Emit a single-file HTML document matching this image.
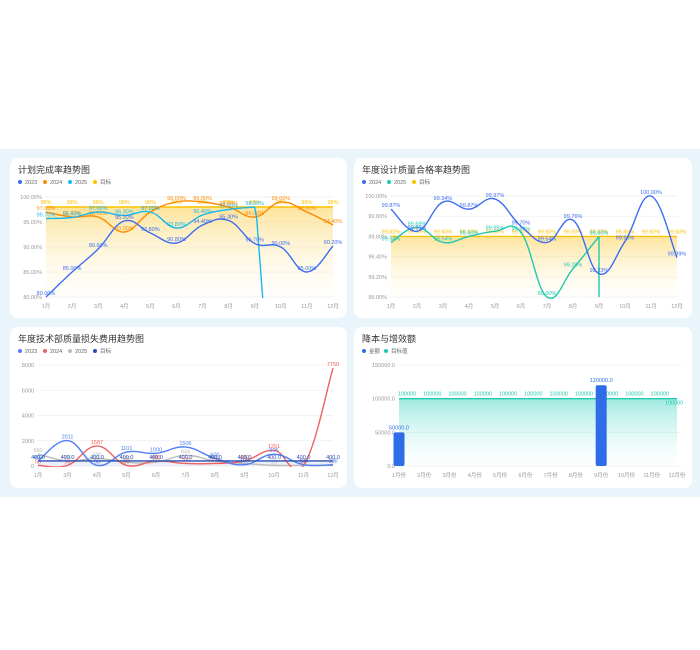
<!DOCTYPE html>
<html><head><meta charset="utf-8"><style>
body{margin:0;width:700px;height:650px;background:#fff;font-family:"Liberation Sans","Noto Sans CJK SC",sans-serif;position:relative;overflow:hidden}
#bg{position:absolute;left:0;top:149px;width:700px;height:348px;background:#eaf5fb}
.card{position:absolute;background:#fff;border-radius:8px}
svg{position:absolute;left:0;top:0}
</style></head><body>
<div id="bg"></div>
<div class="card" style="left:10px;top:158px;width:337px;height:160px"></div>
<div class="card" style="left:354px;top:158px;width:338px;height:160px"></div>
<div class="card" style="left:10px;top:327px;width:337px;height:161px"></div>
<div class="card" style="left:354px;top:327px;width:338px;height:161px"></div>
<svg id="s" width="700" height="650" xmlns="http://www.w3.org/2000/svg" font-family="Liberation Sans, Noto Sans CJK SC, sans-serif">
<defs>
<linearGradient id="gy" x1="0" y1="0" x2="0" y2="1"><stop offset="0" stop-color="#fcd25a" stop-opacity="0.6"/><stop offset="1" stop-color="#fff8e0" stop-opacity="0.1"/></linearGradient>
<linearGradient id="gt" x1="0" y1="0" x2="0" y2="1"><stop offset="0" stop-color="#2ccfb8" stop-opacity="0.45"/><stop offset="1" stop-color="#e8faf7" stop-opacity="0.1"/></linearGradient>
<clipPath id="c1"><rect x="30" y="190" width="310" height="108"/></clipPath>
<clipPath id="c3"><rect x="30" y="355" width="310" height="112"/></clipPath>
</defs>
<g id="g"></g>
</svg>
<script>
var g=document.getElementById('g'),h='';
function t(x,y,s,c,sz,a,w){h+='<text x="'+x+'" y="'+y+'" fill="'+c+'" font-size="'+sz+'" text-anchor="'+(a||'start')+'"'+(w?' font-weight="'+w+'"':'')+'>'+s+'</text>';}
function sp(p){var d='M'+p[0][0]+','+p[0][1];for(var i=0;i<p.length-1;i++){var p0=p[i-1]||p[i],p1=p[i],p2=p[i+1],p3=p[i+2]||p2,k=0.2;d+=' C'+(p1[0]+(p2[0]-p0[0])*k)+','+(p1[1]+(p2[1]-p0[1])*k)+' '+(p2[0]-(p3[0]-p1[0])*k)+','+(p2[1]-(p3[1]-p1[1])*k)+' '+p2[0]+','+p2[1];}return d;}
function leg(x,y,items){items.forEach(function(it){h+='<circle cx="'+x+'" cy="'+y+'" r="2" fill="'+it[1]+'"/>';t(x+5,y+2,it[0],'#666',5.5);x+=it[0].length>2?17+it[0].length*2:22;});}
function chart(o){
 t(o.cx+8,o.cy+15,o.title,'#333',9);leg(o.cx+10,o.cy+24,o.leg);
 o.yt.forEach(function(v){var y=o.y0+(v-o.min)/(o.max-o.min)*(o.y1-o.y0);h+='<line x1="'+o.x0+'" x2="'+o.xe+'" y1="'+y+'" y2="'+y+'" stroke="#eee" stroke-width="0.7"/>';t(o.x0-4,y+2,o.fmt(v),'#999',5.5,'end');});
 o.xl.forEach(function(s,i){t(o.x0+(i)*(o.x1-o.x0)/(o.xl.length-1),o.y0+11,s,'#999',5.5,'middle');});
}
function X(o,i){return o.x0+i*(o.x1-o.x0)/(o.n-1);}
function Y(o,v){return o.y0+(v-o.min)/(o.max-o.min)*(o.y1-o.y0);}
function line(o,data,c,lab,clip){var p=data.map(function(v,i){return [X(o,i),Y(o,v)];});h+='<path d="'+sp(p)+'" fill="none" stroke="'+c+'" stroke-width="1.4"'+(clip?' clip-path="url(#'+clip+')"':'')+'/>';if(lab)data.forEach(function(v,i){if(i<lab.length&&lab[i]!==null)t(p[i][0],p[i][1]-2,lab[i],c,5.5,'middle');});}
var m12=['1月','2月','3月','4月','5月','6月','7月','8月','9月','10月','11月','12月'];
// Chart1
var o1={cx:10,cy:158,title:'计划完成率趋势图',leg:[['2023','#3b6ef0'],['2024','#ff8a00'],['2025','#18b8f0'],['目标','#fdc100']],x0:46,x1:333,xe:333,y0:297,y1:197,min:80,max:100,n:12,yt:[80,85,90,95,100],fmt:function(v){return v.toFixed(2)+'%'},xl:m12};
chart(o1);
h+='<rect x="46" y="'+Y(o1,98)+'" width="287" height="'+(297-Y(o1,98))+'" fill="url(#gy)"/>';
h+='<line x1="46" x2="333" y1="'+Y(o1,98)+'" y2="'+Y(o1,98)+'" stroke="#fdc100" stroke-width="1.4"/>';
m12.forEach(function(s,i){t(X(o1,i),Y(o1,98)-3,'98%','#fdc100',5.5,'middle');});
var d23=[80,85,89.6,95.2,92.8,90.8,94.4,95.3,90.7,90,85,90.2];
line(o1,[97,96,96,93,97,99,99,98,96,99,97,94.4],'#ff8a00',['97.00%','96.00%','96.00%','93.00%','97.00%','99.00%','99.00%','98.00%','96.00%','99.00%','97.00%','94.40%']);
line(o1,[95.7,95.9,97,96.3,97,93.8,96.4,97.5,98],'#18b8f0',['95.70%','95.90%','97.00%','96.30%','97.00%','93.80%','96.40%','97.50%','98.00%']);
h+='<path d="M'+X(o1,8)+','+Y(o1,98)+' L'+(X(o1,8)+2)+','+(Y(o1,98)+12)+' L'+(X(o1,8)+8)+',298" fill="none" stroke="#18b8f0" stroke-width="1.4" clip-path="url(#c1)"/>';
line(o1,d23,'#3b6ef0',d23.map(function(v){return v.toFixed(2)+'%'}));
// Chart2
var o2={cx:354,cy:158,title:'年度设计质量合格率趋势图',leg:[['2024','#3b6ef0'],['2025','#1fc8b0'],['目标','#fdc100']],x0:391,x1:677,xe:677,y0:297,y1:196,min:99,max:100,n:12,yt:[99,99.2,99.4,99.6,99.8,100],fmt:function(v){return v.toFixed(2)+'%'},xl:m12};
chart(o2);
h+='<rect x="391" y="'+Y(o2,99.6)+'" width="286" height="'+(297-Y(o2,99.6))+'" fill="url(#gy)"/>';
h+='<line x1="391" x2="677" y1="'+Y(o2,99.6)+'" y2="'+Y(o2,99.6)+'" stroke="#fdc100" stroke-width="1.4"/>';
m12.forEach(function(s,i){t(X(o2,i),Y(o2,99.6)-3,'99.60%','#fdc100',5.5,'middle');});
line(o2,[99.54,99.69,99.54,99.6,99.65,99.64,99,99.28,99.6],'#1fc8b0',['99.54%','99.69%','99.54%','99.60%','99.65%','99.64%','99.00%','99.28%','99.60%']);
h+='<line x1="'+X(o2,8)+'" x2="'+X(o2,8)+'" y1="'+Y(o2,99.6)+'" y2="297" stroke="#1fc8b0" stroke-width="1.4"/>';
var e24=[99.87,99.65,99.94,99.87,99.97,99.7,99.54,99.76,99.23,99.55,100,99.39];
line(o2,e24,'#3b6ef0',e24.map(function(v){return v.toFixed(2)+'%'}));
// Chart3
var m11=['1月','3月','4月','5月','6月','7月','8月','9月','10月','11月','12月'];
var o3={cx:10,cy:327,title:'年度技术部质量损失费用趋势图',leg:[['2023','#4e7ff5'],['2024','#f06060'],['2025','#bbb'],['目标','#2a4fb0']],x0:38,x1:333,xe:333,y0:466,y1:365,min:0,max:8000,n:11,yt:[0,2000,4000,6000,8000],fmt:function(v){return v},xl:m11};
chart(o3);
h+='<rect x="38" y="'+Y(o3,400)+'" width="295" height="'+(466-Y(o3,400))+'" fill="#dfe5f5" opacity="0.6"/>';
var a25=[950,400,600,300,300,844,400,200,50,50,50];
line(o3,a25,'#bbb',a25.map(String),'c3');
var a24=[50,50,1587,50,400,200,200,400,1251,50,7750];
line(o3,a24,'#f06060',a24.map(String),'c3');
var a23=[400,2011,50,1101,1000,1506,600,100,935,100,100];
line(o3,a23,'#4e7ff5',a23.map(String),'c3');
line(o3,[400,400,400,400,400,400,400,400,400,400,400],'#2a4fb0',m11.map(function(){return '400.0'}));
// Chart4
var m12b=m12.map(function(s){return s+'份'});
var o4={cx:354,cy:327,title:'降本与增效额',leg:[['金额','#2f6de8'],['目标值','#1fc8b0']],x0:399,x1:677,xe:682,y0:466,y1:365,min:0,max:150000,n:12,yt:[0,50000,100000,150000],fmt:function(v){return v.toFixed(1)},xl:m12b};
chart(o4);
var ty=Y(o4,100000);
h+='<rect x="399" y="'+ty+'" width="278" height="'+(466-ty)+'" fill="url(#gt)"/>';
h+='<line x1="399" x2="677" y1="'+ty+'" y2="'+ty+'" stroke="#1fc8b0" stroke-width="1.4"/>';
m12.forEach(function(s,i){t(X(o4,i)+(i==11?-3:8),ty-(i==11?-6:3),'100000','#1fc8b0',5.5,'middle');});
[[0,50000],[8,120000]].forEach(function(b){var x=X(o4,b[0]),y=Y(o4,b[1]);h+='<rect x="'+(x-5.5)+'" y="'+y+'" width="11" height="'+(466-y)+'" rx="2" fill="#2f6de8"/>';t(x,y-3,b[1].toFixed(1),'#2f6de8',5.5,'middle');});
g.innerHTML=h;
</script>
</body></html>
